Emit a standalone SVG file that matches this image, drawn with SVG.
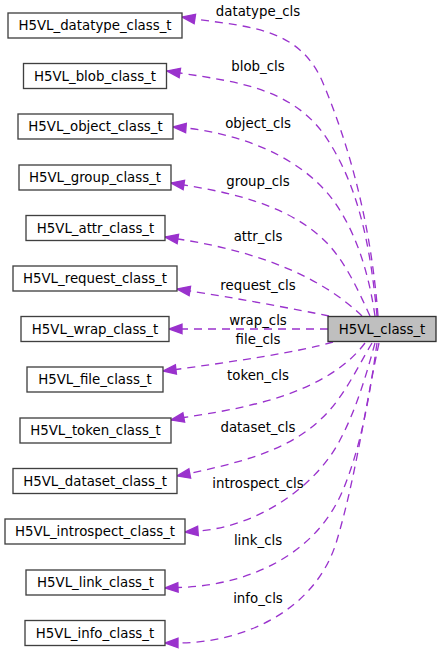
<svg xmlns="http://www.w3.org/2000/svg" width="441" height="652" viewBox="0 0 441 652">
<style>
.box rect{fill:#ffffff;stroke:#404040;stroke-width:1.33}
.main rect{fill:#bfbfbf;stroke:#333333;stroke-width:1.33}
text{font-family:"DejaVu Sans","Liberation Sans",sans-serif;font-size:13.33px;fill:#000000;text-anchor:middle}
.edge{fill:none;stroke:#9a32cd;stroke-width:1.33;stroke-dasharray:8,6;marker-end:url(#arr)}
</style>
<defs>
<marker id="arr" markerUnits="userSpaceOnUse" markerWidth="16" markerHeight="12" refX="14" refY="6" orient="auto" overflow="visible">
<path d="M1,1.3 L14,6 L1,10.7 z" fill="#9a32cd" stroke="#9a32cd" stroke-width="1.33" stroke-dasharray="none"/>
</marker>
</defs>
<g id="edges">
<path class="edge" d="M378,316 C372,236 354,157 323,83 C300,28 250,27 195,19 L182,17"/>
<path class="edge" d="M377,316 C371,252 360,185 323,133 C290,89 239,82 180,73 L167,71"/>
<path class="edge" d="M375,316 C369,275 357,233 333,200 C300,156 240,134 186,128 L173,127"/>
<path class="edge" d="M370,316 C358,290 346,263 327,243 C291,206 234,193 184,185 L171,183"/>
<path class="edge" d="M362,316 C314,270 243,249 178,239 L165,237"/>
<path class="edge" d="M329,316 C300,310 230,297 190,291 L177,289"/>
<path class="edge" d="M328,329 L169,329"/>
<path class="edge" d="M333,342 C300,352 230,362 176,369.5 L163,371"/>
<path class="edge" d="M365,343 C326,395 240,409 184,417.5 L171,420"/>
<path class="edge" d="M372,343 C356,370 343,399 320,420 C286,452 236,463 190,473.5 L177,476"/>
<path class="edge" d="M375,343 C366,376 356,410 340,440 C314,490 254,527 198,531 L185,532"/>
<path class="edge" d="M377,343 C370,393 362,444 343,490 C314,559 242,586 178,587.5 L165,588"/>
<path class="edge" d="M379,343 C365,408 356,476 337,540 C316,612 241,643 178,643 L165,643"/>
<text x="258" y="16">datatype_cls</text>
<text x="258" y="71">blob_cls</text>
<text x="258" y="128">object_cls</text>
<text x="258" y="186">group_cls</text>
<text x="258" y="241">attr_cls</text>
<text x="258" y="290">request_cls</text>
<text x="258" y="325">wrap_cls</text>
<text x="258" y="344">file_cls</text>
<text x="258" y="380">token_cls</text>
<text x="258" y="432">dataset_cls</text>
<text x="258" y="488">introspect_cls</text>
<text x="258" y="545">link_cls</text>
<text x="258" y="603">info_cls</text>
</g>
<g id="H5VL_class_t" class="main"><rect x="328" y="316.5" width="108" height="25"/><text x="382" y="333.5">H5VL_class_t</text></g>
<g id="H5VL_datatype_class_t" class="box"><rect x="8" y="13" width="174" height="25"/><text x="95" y="30">H5VL_datatype_class_t</text></g>
<g id="H5VL_blob_class_t" class="box"><rect x="23.5" y="63.5" width="143" height="25"/><text x="95" y="80.5">H5VL_blob_class_t</text></g>
<g id="H5VL_object_class_t" class="box"><rect x="18" y="114" width="155" height="25"/><text x="95.5" y="131">H5VL_object_class_t</text></g>
<g id="H5VL_group_class_t" class="box"><rect x="19" y="165" width="152" height="25"/><text x="95" y="182">H5VL_group_class_t</text></g>
<g id="H5VL_attr_class_t" class="box"><rect x="26" y="215.5" width="139" height="25"/><text x="95.5" y="232.5">H5VL_attr_class_t</text></g>
<g id="H5VL_request_class_t" class="box"><rect x="13" y="266" width="164" height="25"/><text x="95" y="283">H5VL_request_class_t</text></g>
<g id="H5VL_wrap_class_t" class="box"><rect x="21" y="316.5" width="148" height="25"/><text x="95" y="333.5">H5VL_wrap_class_t</text></g>
<g id="H5VL_file_class_t" class="box"><rect x="27" y="367" width="136" height="25"/><text x="95" y="384">H5VL_file_class_t</text></g>
<g id="H5VL_token_class_t" class="box"><rect x="20" y="418" width="151" height="25"/><text x="95.5" y="435">H5VL_token_class_t</text></g>
<g id="H5VL_dataset_class_t" class="box"><rect x="13" y="468.5" width="164" height="25"/><text x="95" y="485.5">H5VL_dataset_class_t</text></g>
<g id="H5VL_introspect_class_t" class="box"><rect x="5" y="519" width="180" height="25"/><text x="95" y="536">H5VL_introspect_class_t</text></g>
<g id="H5VL_link_class_t" class="box"><rect x="26" y="570" width="139" height="25"/><text x="95.5" y="587">H5VL_link_class_t</text></g>
<g id="H5VL_info_class_t" class="box"><rect x="25" y="620.5" width="140" height="25"/><text x="95" y="637.5">H5VL_info_class_t</text></g>
</svg>
